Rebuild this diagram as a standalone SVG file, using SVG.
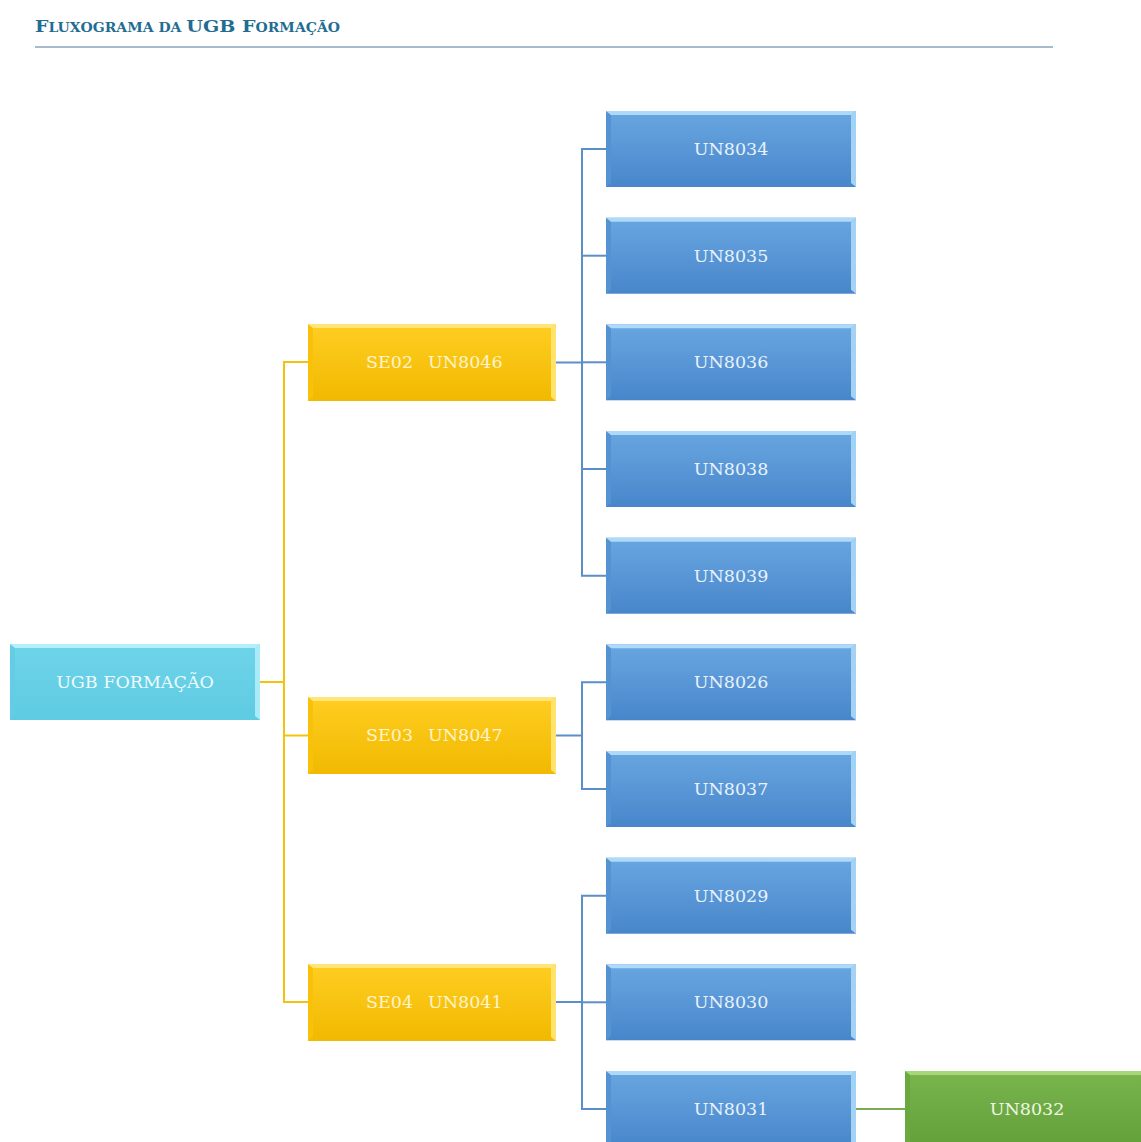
<svg xmlns="http://www.w3.org/2000/svg" xmlns:xlink="http://www.w3.org/1999/xlink" width="1141" height="1142" viewBox="0 0 1141 1142">
<style>
  .lbl { font-family: "DejaVu Serif", "Liberation Serif", serif; font-size: 17.5px; text-anchor: middle; }
  .lbs { font-family: "DejaVu Serif", "Liberation Serif", serif; font-size: 17.5px; }
  .tb { fill: #e9f2fb; }
  .ty { fill: #fff4cc; }
  .tc { fill: #eefbfe; }
  .tg { fill: #eef7e4; }
  .cy { stroke: #f2c20f; stroke-width: 2; fill: none; }
  .cb { stroke: #5b8fc8; stroke-width: 2; fill: none; }
  .cg { stroke: #7aab4f; stroke-width: 2; fill: none; }
  .title { font-family: "DejaVu Serif", "Liberation Serif", serif; font-weight: bold; fill: #1f6d92; }
</style>
<defs>
  <linearGradient id="gBlue" x1="0" y1="0" x2="0" y2="1">
    <stop offset="0" stop-color="#68a6e1"/>
    <stop offset="1" stop-color="#4886cb"/>
  </linearGradient>
  <linearGradient id="gYel" x1="0" y1="0" x2="0" y2="1">
    <stop offset="0" stop-color="#ffce22"/>
    <stop offset="1" stop-color="#f1b900"/>
  </linearGradient>
  <linearGradient id="gCyan" x1="0" y1="0" x2="0" y2="1">
    <stop offset="0" stop-color="#6fd4e9"/>
    <stop offset="1" stop-color="#5ecbe3"/>
  </linearGradient>
  <linearGradient id="gGreen" x1="0" y1="0" x2="0" y2="1">
    <stop offset="0" stop-color="#7ab54d"/>
    <stop offset="1" stop-color="#62a03a"/>
  </linearGradient>
  <g id="boxBlue">
    <rect x="0" y="0" width="250" height="76" fill="url(#gBlue)"/>
    <polygon points="0,0 5,4 5,72 0,76" fill="#5592d2"/>
    <polygon points="250,0 250,76 245,72 245,4" fill="#a3d3f4"/>
    <polygon points="0,0 250,0 245,4 5,4" fill="#aed9f8"/>
  </g>
  <g id="boxYel">
    <rect x="0" y="0" width="248" height="77" fill="url(#gYel)"/>
    <polygon points="0,0 5,4 5,73 0,77" fill="#f8c10a"/>
    <polygon points="248,0 248,77 243,73 243,4" fill="#ffe36c"/>
    <polygon points="0,0 248,0 243,4 5,4" fill="#ffe57a"/>
  </g>
  <g id="boxCyan">
    <rect x="0" y="0" width="250" height="76" fill="url(#gCyan)"/>
    <polygon points="0,0 5,4 5,72 0,76" fill="#63cde4"/>
    <polygon points="250,0 250,76 245,72 245,4" fill="#a9ecf8"/>
    <polygon points="0,0 250,0 245,4 5,4" fill="#b2f0fb"/>
  </g>
  <g id="boxGreen">
    <rect x="0" y="0" width="250" height="76" fill="url(#gGreen)"/>
    <polygon points="0,0 5,4 5,72 0,76" fill="#6aa940"/>
    <polygon points="0,0 250,0 245,4 5,4" fill="#a6d57c"/>
  </g>
</defs>
<rect width="1141" height="1142" fill="#ffffff"/>

<g id="title">
  <text class="title" x="35" y="32" textLength="305" lengthAdjust="spacingAndGlyphs"><tspan font-size="17">F</tspan><tspan font-size="12.5">LUXOGRAMA DA </tspan><tspan font-size="17">UGB F</tspan><tspan font-size="12.5">ORMAÇÃO</tspan></text>
  <line x1="35" y1="47" x2="1053" y2="47" stroke="#8ba5bd" stroke-width="1.5"/>
</g>

<g id="connectors">
  <polyline class="cy" points="259,682 284,682"/>
  <polyline class="cy" points="308,362 284,362 284,1002 308,1002"/>
  <polyline class="cy" points="284,735.5 308,735.5"/>

  <polyline class="cb" points="556,362.5 582,362.5"/>
  <polyline class="cb" points="606,149 582,149 582,575.7 606,575.7"/>
  <polyline class="cb" points="582,255.7 606,255.7"/>
  <polyline class="cb" points="582,362.3 606,362.3"/>
  <polyline class="cb" points="582,469 606,469"/>

  <polyline class="cb" points="556,735.5 582,735.5"/>
  <polyline class="cb" points="606,682.3 582,682.3 582,789 606,789"/>

  <polyline class="cb" points="556,1002 582,1002"/>
  <polyline class="cb" points="606,895.7 582,895.7 582,1109 606,1109"/>
  <polyline class="cb" points="582,1002.3 606,1002.3"/>

  <polyline class="cg" points="856,1109 905,1109"/>
</g>

<g id="ugb">
  <use xlink:href="#boxCyan" x="10" y="644"/>
  <text class="lbl tc" x="135" y="688">UGB FORMAÇÃO</text>
</g>

<g id="se02">
  <use xlink:href="#boxYel" x="308" y="324"/>
  <text class="lbs ty" y="368"><tspan x="366">SE02</tspan><tspan x="428">UN8046</tspan></text>
</g>
<g id="se03">
  <use xlink:href="#boxYel" x="308" y="697"/>
  <text class="lbs ty" y="741"><tspan x="366">SE03</tspan><tspan x="428">UN8047</tspan></text>
</g>
<g id="se04">
  <use xlink:href="#boxYel" x="308" y="964"/>
  <text class="lbs ty" y="1008"><tspan x="366">SE04</tspan><tspan x="428">UN8041</tspan></text>
</g>

<g id="un8034"><use xlink:href="#boxBlue" x="606" y="111"/><text class="lbl tb" x="731" y="155">UN8034</text></g>
<g id="un8035"><use xlink:href="#boxBlue" x="606" y="217.7"/><text class="lbl tb" x="731" y="261.7">UN8035</text></g>
<g id="un8036"><use xlink:href="#boxBlue" x="606" y="324.3"/><text class="lbl tb" x="731" y="368.3">UN8036</text></g>
<g id="un8038"><use xlink:href="#boxBlue" x="606" y="431"/><text class="lbl tb" x="731" y="475">UN8038</text></g>
<g id="un8039"><use xlink:href="#boxBlue" x="606" y="537.7"/><text class="lbl tb" x="731" y="581.7">UN8039</text></g>
<g id="un8026"><use xlink:href="#boxBlue" x="606" y="644.3"/><text class="lbl tb" x="731" y="688.3">UN8026</text></g>
<g id="un8037"><use xlink:href="#boxBlue" x="606" y="751"/><text class="lbl tb" x="731" y="795">UN8037</text></g>
<g id="un8029"><use xlink:href="#boxBlue" x="606" y="857.7"/><text class="lbl tb" x="731" y="901.7">UN8029</text></g>
<g id="un8030"><use xlink:href="#boxBlue" x="606" y="964.3"/><text class="lbl tb" x="731" y="1008.3">UN8030</text></g>
<g id="un8031"><use xlink:href="#boxBlue" x="606" y="1071"/><text class="lbl tb" x="731" y="1115">UN8031</text></g>

<g id="un8032"><use xlink:href="#boxGreen" x="905" y="1071"/><text class="lbl tg" x="1027" y="1115">UN8032</text></g>
</svg>
